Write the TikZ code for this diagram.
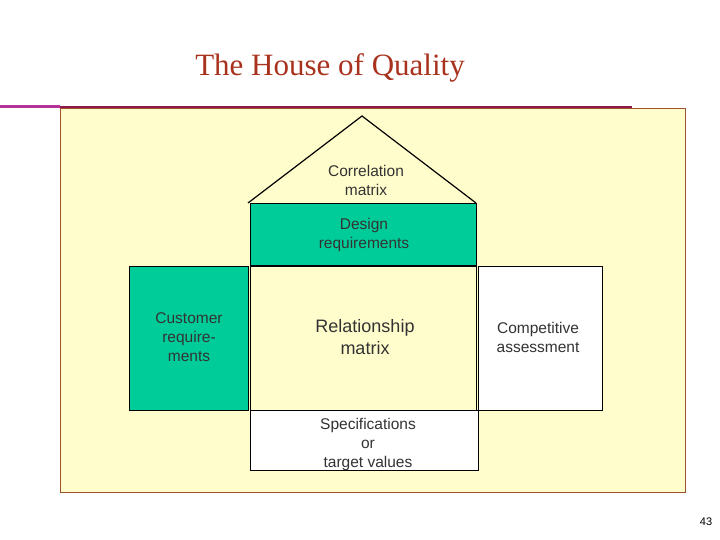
\documentclass[tikz,border=0pt]{standalone}
\usepackage{fontspec}
\setmainfont{Liberation Serif}
\newfontfamily\sansf{Liberation Sans}
\definecolor{titlered}{HTML}{A8321E}
\definecolor{mag}{HTML}{B4329A}
\definecolor{pal}{HTML}{FFFDCC}
\definecolor{teal}{HTML}{00CC99}
\definecolor{brd}{HTML}{A0522D}
\begin{document}
\begin{tikzpicture}[x=1pt,y=-1pt,
  box/.style={draw=black,line width=0.9pt},
  lbl/.style={font=\sansf\fontsize{15.5}{19}\selectfont,align=center,text=black!80}]
\useasboundingbox (0,0) rectangle (720,540);
\node[font=\fontsize{31}{36}\selectfont,text=titlered] (title) at (330,68) {The House of Quality};
\draw[mag,line width=3pt] (0,107) -- (60,107);
\draw[mag!70!red!70!black,line width=2pt] (60,107) -- (632,107);
\draw[brd,fill=pal,line width=0.8pt] (60,108) rectangle (685,492);
\draw[line width=1.2pt,fill=pal] (248,203) -- (362,116) -- (476,203);
\node[lbl] (corr) at (366,180) {Correlation\\matrix};
\draw[box,fill=teal] (250,203) rectangle (476,265);
\node[lbl] (des) at (364,235) {Design\\requirements};
\draw[box,fill=teal] (129,266) rectangle (248,410);
\node[lbl] (cust) at (189,337) {Customer\\require-\\ments};
\draw[box,fill=pal] (250,266) rectangle (476,410);
\node[lbl,font=\sansf\fontsize{18}{22}\selectfont] (rel) at (365,337) {Relationship\\matrix};
\draw[box,fill=white] (478,266) rectangle (602,410);
\node[lbl] (comp) at (538,337) {Competitive\\assessment};
\draw[box,fill=white] (250,410) rectangle (478,470);
\node[lbl] (spec) at (368,444) {Specifications\\or\\target values};
\node[font=\sansf\fontsize{11}{13}\selectfont] (pg) at (706,522) {43};
\end{tikzpicture}
\end{document}
